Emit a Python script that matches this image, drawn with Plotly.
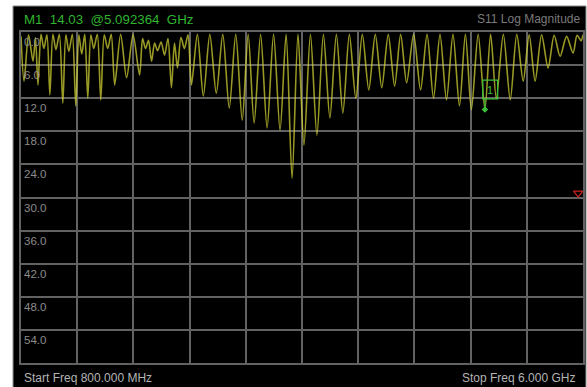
import plotly.graph_objects as go

# S11 log-magnitude sweep, 800 MHz .. 6 GHz (return loss in dB, positive downward)
trace_freq_ghz = [
    0.800, 0.828, 0.870, 0.911, 0.934, 0.957, 0.985, 1.012, 1.040, 1.067,
    1.095, 1.123, 1.155, 1.187, 1.215, 1.243, 1.275, 1.307, 1.335, 1.362,
    1.390, 1.418, 1.446, 1.473, 1.506, 1.538, 1.570, 1.602, 1.635, 1.667,
    1.722, 1.777, 1.837, 1.897, 1.925, 1.952, 1.980, 2.008, 2.036, 2.063,
    2.096, 2.128, 2.160, 2.192, 2.220, 2.248, 2.280, 2.312, 2.345, 2.377,
    2.432, 2.487, 2.547, 2.607, 2.667, 2.727, 2.787, 2.847, 2.902, 2.957,
    3.017, 3.077, 3.137, 3.197, 3.253, 3.308, 3.363, 3.418, 3.478, 3.538,
    3.598, 3.658, 3.718, 3.778, 3.838, 3.898, 3.958, 4.018, 4.078, 4.138,
    4.198, 4.257, 4.313, 4.368, 4.433, 4.497, 4.557, 4.617, 4.677, 4.737,
    4.797, 4.857, 4.912, 4.967, 5.030, 5.092364, 5.145, 5.198, 5.263, 5.327,
    5.387, 5.447, 5.502, 5.557, 5.617, 5.677, 5.733, 5.788, 5.848, 5.908,
    5.945, 5.982, 6.000,
]
trace_db = [
    0.8, 8.9, 0.5, 5.3, 1.0, 9.6, 0.4, 3.0, 0.5, 11.4,
    0.4, 3.2, 0.4, 12.9, 0.5, 3.5, 0.4, 13.4, 0.5, 4.0,
    0.4, 12.0, 0.5, 3.0, 0.4, 12.3, 0.5, 3.0, 0.4, 9.6,
    0.4, 8.3, 0.5, 7.8, 1.2, 3.0, 1.5, 5.3, 2.0, 3.4,
    1.8, 4.2, 1.2, 10.1, 2.0, 6.5, 1.0, 3.0, 0.5, 9.6,
    0.4, 11.6, 0.4, 11.1, 0.4, 13.8, 0.4, 16.0, 0.4, 16.5,
    0.4, 17.4, 0.4, 17.8, 0.4, 26.5, 0.4, 20.5, 0.4, 18.7,
    0.4, 15.6, 0.4, 14.7, 0.4, 12.0, 0.4, 10.5, 0.4, 10.1,
    0.4, 9.8, 0.4, 9.2, 0.4, 10.5, 0.4, 12.0, 0.4, 12.3,
    0.4, 13.4, 0.4, 14.1, 0.4, 14.03, 0.4, 12.0, 0.4, 12.3,
    0.4, 8.9, 0.5, 8.9, 0.5, 6.5, 0.6, 4.4, 0.8, 3.8,
    0.6, 1.6, 0.5,
]

# Marker M1
marker_freq_ghz = 5.092364
marker_db = 14.03

# Scale: 0..60 dB, 6 dB/div; 10 frequency divisions
y_tick_values = [0, 6, 12, 18, 24, 30, 36, 42, 48, 54]
y_tick_labels = ["0.0", "6.0", "12.0", "18.0", "24.0", "30.0", "36.0", "42.0", "48.0", "54.0"]
start_ghz, stop_ghz = 0.8, 6.0

W, H = 587, 387
ml, mr, mt, mb = 21, 2, 32, 24
pw, ph = W - ml - mr, H - mt - mb

def px_to_paper_x(px):
    return (px - ml) / pw

def px_to_paper_y(py):
    return (H - mb - py) / ph

GRID = "#626262"
FONT = "Liberation Sans Narrow, Liberation Sans, Arial, sans-serif"

fig = go.Figure()

fig.add_trace(go.Scatter(
    x=trace_freq_ghz, y=trace_db, mode="lines",
    line=dict(color="rgba(212,212,52,0.72)", width=1.6, shape="spline", smoothing=0.8),
    hoverinfo="skip", showlegend=False,
))

# marker point with flag
fig.add_trace(go.Scatter(
    x=[marker_freq_ghz], y=[marker_db], mode="markers",
    marker=dict(symbol="diamond", size=5, color="#3cc03c"),
    showlegend=False, hoverinfo="skip",
))

# reference position indicator at the right edge
fig.add_trace(go.Scatter(
    x=[5.955], y=[29.2], mode="markers",
    marker=dict(symbol="triangle-down-open", size=8, color="#d02020", line=dict(width=1.2)),
    showlegend=False, hoverinfo="skip", cliponaxis=False,
))

shapes = [
    # instrument screen background
    dict(type="rect", xref="paper", yref="paper",
         x0=px_to_paper_x(13), x1=px_to_paper_x(588),
         y0=px_to_paper_y(388), y1=px_to_paper_y(6),
         fillcolor="black", line=dict(color="#8a8a8a", width=1), layer="below"),
    # marker flag box and stem
    dict(type="rect", xref="x", yref="y",
         x0=marker_freq_ghz - 0.02, x1=marker_freq_ghz + 0.118,
         y0=marker_db - 5.3, y1=marker_db - 1.9,
         line=dict(color="#3cc03c", width=1.3), fillcolor="rgba(0,0,0,0)"),
    dict(type="line", xref="x", yref="y",
         x0=marker_freq_ghz, x1=marker_freq_ghz,
         y0=marker_db - 1.9, y1=marker_db,
         line=dict(color="#3cc03c", width=1.3)),
]

annotations = []
for v, t in zip(y_tick_values, y_tick_labels):
    annotations.append(dict(
        x=0, y=v, xref="paper", yref="y", text=t, showarrow=False,
        xanchor="left", yanchor="top", xshift=1, yshift=-2,
        font=dict(family=FONT, size=11.5, color="#8c8c8c"),
    ))

annotations += [
    dict(x=marker_freq_ghz + 0.049, y=marker_db - 3.6, xref="x", yref="y", text="1",
         showarrow=False, font=dict(family=FONT, size=11, color="#3cc03c")),
    dict(x=px_to_paper_x(22), y=px_to_paper_y(19), xref="paper", yref="paper",
         text="M1  14.03  @5.092364  GHz", showarrow=False, xanchor="left", yanchor="middle",
         font=dict(family=FONT, size=13.3, color="#2fb52f")),
    dict(x=px_to_paper_x(585), y=px_to_paper_y(19), xref="paper", yref="paper",
         text="S11 Log Magnitude", showarrow=False, xanchor="right", yanchor="middle",
         font=dict(family=FONT, size=12, color="#7a7a7a")),
    dict(x=px_to_paper_x(22), y=px_to_paper_y(378), xref="paper", yref="paper",
         text="Start Freq 800.000 MHz", showarrow=False, xanchor="left", yanchor="middle",
         font=dict(family=FONT, size=12, color="#b4b4b4")),
    dict(x=px_to_paper_x(579), y=px_to_paper_y(378), xref="paper", yref="paper",
         text="Stop Freq 6.000 GHz", showarrow=False, xanchor="right", yanchor="middle",
         font=dict(family=FONT, size=12, color="#b4b4b4")),
]

fig.update_layout(
    width=W, height=H,
    margin=dict(l=ml, r=mr, t=mt, b=mb, pad=0),
    paper_bgcolor="white", plot_bgcolor="black",
    shapes=shapes, annotations=annotations,
    showlegend=False,
)
fig.update_xaxes(
    range=[start_ghz, stop_ghz], dtick=(stop_ghz - start_ghz) / 10, tick0=start_ghz,
    showgrid=True, gridcolor=GRID, gridwidth=1.6, zeroline=False,
    showticklabels=False, ticks="",
    showline=True, linecolor=GRID, linewidth=1.6, mirror=True,
)
fig.update_yaxes(
    range=[60, 0], dtick=6, tick0=0,
    showgrid=True, gridcolor=GRID, gridwidth=1.6, zeroline=False,
    showticklabels=False, ticks="",
    showline=True, linecolor=GRID, linewidth=1.6, mirror=True,
)

fig.write_html("out.html")
